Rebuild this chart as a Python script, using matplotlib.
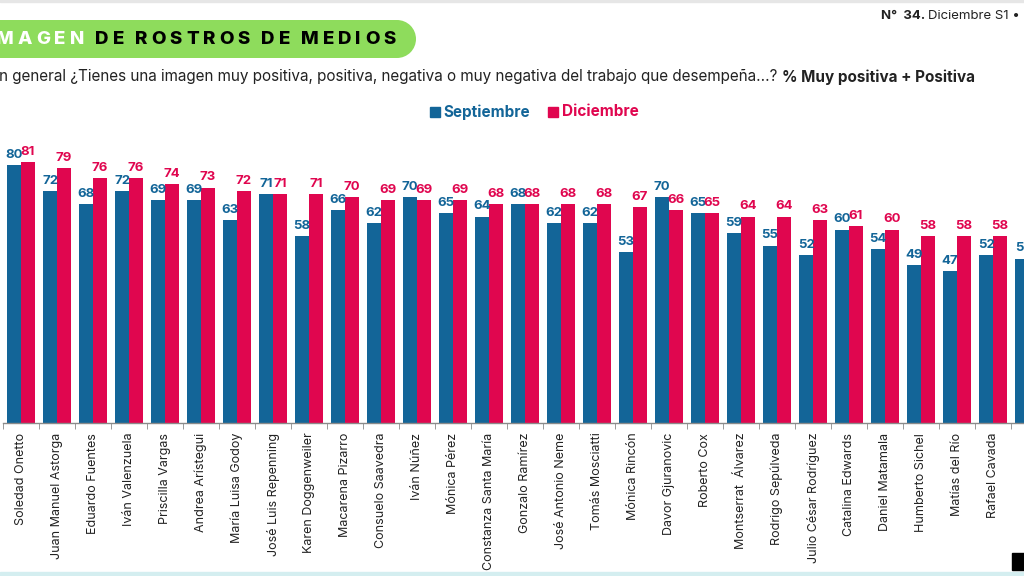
import matplotlib
matplotlib.use('Agg')
import matplotlib.pyplot as plt
import numpy as np
from matplotlib.patches import Ellipse, Rectangle

plt.rcParams['font.family'] = ['Inter', 'DejaVu Sans']

# data
names = ['Soledad Onetto', 'Juan Manuel Astorga', 'Eduardo Fuentes',
         'Iván Valenzuela', 'Priscilla Vargas', 'Andrea Arístegui',
         'María Luisa Godoy', 'José Luis Repenning', 'Karen Doggenweiler',
         'Macarena Pizarro', 'Consuelo Saavedra', 'Iván Núñez',
         'Mónica Pérez', 'Constanza Santa María', 'Gonzalo Ramírez',
         'José Antonio Neme', 'Tomás Mosciatti', 'Mónica Rincón',
         'Davor Gjuranovic', 'Roberto Cox', 'Montserrat  Álvarez',
         'Rodrigo Sepúlveda', 'Julio César Rodríguez', 'Catalina Edwards',
         'Daniel Matamala', 'Humberto Sichel', 'Matías del Río',
         'Rafael Cavada', '']
septiembre = [80, 72, 68, 72, 69, 69, 63, 71, 58, 66, 62, 70, 65, 64, 68,
              62, 62, 53, 70, 65, 59, 55, 52, 60, 54, 49, 47, 52, 51]
diciembre = [81, 79, 76, 76, 74, 73, 72, 71, 71, 70, 69, 69, 69, 68, 68,
             68, 68, 67, 66, 65, 64, 64, 63, 61, 60, 58, 58, 58, np.nan]

BLUE = '#136598'
RED = '#E0064F'
GREEN = '#8EDC5C'
W, H = 1024, 576

fig = plt.figure(figsize=(W / 100, H / 100), dpi=100)
fig.patch.set_facecolor('white')

# chart axes, cropped on both sides like the screenshot
left_px, base_px, step = 3, 423, 36.0
ymax = 90
ax = fig.add_axes([left_px / W, (H - base_px) / H,
                   (W - left_px) / W, ymax * 3.225 / H])

x = np.arange(len(names))
bw = 0.38
ax.bar(x - bw / 2, septiembre, bw, color=BLUE, edgecolor='none')
ax.bar(x + bw / 2, diciembre, bw, color=RED, edgecolor='none')

for xi, s, d in zip(x, septiembre, diciembre):
    if not np.isnan(s):
        ax.annotate(f'{s:.0f}', (xi - bw / 2, s), xytext=(0, 3),
                    textcoords='offset points', ha='center', va='bottom',
                    color=BLUE, fontsize=9.5, fontweight='bold')
    if not np.isnan(d):
        ax.annotate(f'{d:.0f}', (xi + bw / 2, d), xytext=(0, 3),
                    textcoords='offset points', ha='center', va='bottom',
                    color=RED, fontsize=9.5, fontweight='bold')

for side in ['top', 'right', 'left']:
    ax.spines[side].set_visible(False)
ax.spines['bottom'].set_color('#8a8a8a')
ax.spines['bottom'].set_linewidth(1.0)
ax.set_yticks([])
ax.set_xticks(x)
ax.set_xticklabels(names, rotation=90, fontsize=9, color='#222222',
                   va='top', ha='center')
ax.set_xticks(np.arange(-0.5, len(names)), minor=True)
ax.tick_params(axis='x', which='major', length=0, pad=7)
ax.tick_params(axis='x', which='minor', length=4, color='#8a8a8a')
ax.set_xlim(-0.5, -0.5 + (W - left_px) / step)
ax.set_ylim(0, ymax)

# header pill: a bar with a round right end
fig.add_artist(Rectangle((-40 / W, (H - 58) / H), 437 / W, 38 / H,
                         transform=fig.transFigure, color=GREEN, lw=0))
fig.add_artist(Ellipse((397 / W, (H - 39) / H), 38 / W, 38 / H,
                       transform=fig.transFigure, color=GREEN, lw=0))

renderer = fig.canvas.get_renderer()
cx = -13
ty = (H - 40) / H
for word, col in [('IMAGEN', 'white'), ('DE', 'black'), ('ROSTROS', 'black'),
                  ('DE', 'black'), ('MEDIOS', 'black')]:
    for ch in word:
        t = fig.text(cx / W, ty, ch, color=col, fontsize=13.5,
                     fontweight='heavy', va='center', ha='left')
        cx += t.get_window_extent(renderer).width + 4.0
    cx += 7

# question line
q = fig.text(-10 / W, (H - 77) / H,
             'En general ¿Tienes una imagen muy positiva, positiva, negativa '
             'o muy negativa del trabajo que desempeña...? ',
             fontsize=11, color='#222222', va='center', ha='left')
qx = q.get_window_extent(renderer).x1
fig.text(qx / W, (H - 77) / H, '% Muy positiva + Positiva', fontsize=11,
         fontweight='bold', color='#222222', va='center', ha='left')

# issue tag, top right
tg = fig.text(881 / W, (H - 16) / H, 'N°  34.', fontsize=9.5,
              fontweight='bold', color='#222222', va='center', ha='left')
tx = tg.get_window_extent(renderer).x1
fig.text((tx + 3) / W, (H - 16) / H, 'Diciembre S1 •', fontsize=9.5,
         color='#222222', va='center', ha='left')

# legend
ly = (H - 112) / H
fig.add_artist(Rectangle((430 / W, (H - 117) / H), 10 / W, 10 / H,
                         transform=fig.transFigure, color=BLUE))
fig.text(443 / W, ly, 'Septiembre', fontsize=11, fontweight='bold',
         color=BLUE, va='center', ha='left')
fig.add_artist(Rectangle((548 / W, (H - 117) / H), 10 / W, 10 / H,
                         transform=fig.transFigure, color=RED))
fig.text(562 / W, ly, 'Diciembre', fontsize=11, fontweight='bold',
         color=RED, va='center', ha='left')

# page edges from the screenshot
fig.add_artist(Rectangle((0, (H - 2) / H), 1, 2 / H,
                         transform=fig.transFigure, color='#e6e6e6'))
fig.add_artist(Rectangle((0, 0), 1, 4 / H, transform=fig.transFigure,
                         color='#d4eef0'))
fig.add_artist(Rectangle((1012 / W, 6 / H), 12 / W, 17 / H,
                         transform=fig.transFigure, color='black'))

fig.savefig('out.png', dpi=100, facecolor='white')
